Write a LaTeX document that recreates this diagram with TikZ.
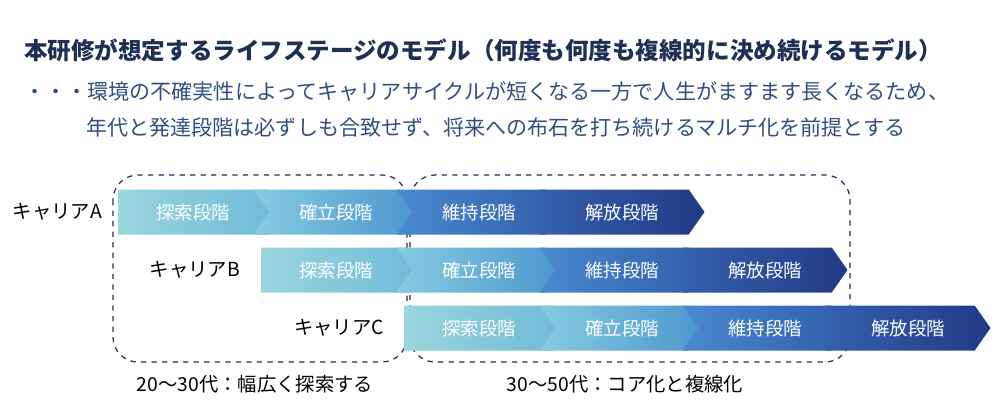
\documentclass[tikz,border=0pt]{standalone}
\usepackage{fontspec}
\setmainfont{Noto Sans CJK JP}
\usetikzlibrary{shapes.symbols}
\definecolor{navy}{HTML}{1F3055}
\definecolor{subblue}{HTML}{2F4F80}
\definecolor{tanA}{HTML}{9AD6DC}\definecolor{tanB}{HTML}{6CB8D8}
\definecolor{kakA}{HTML}{86CBE0}\definecolor{kakB}{HTML}{4C96CE}
\definecolor{ijA}{HTML}{4A8AD0}\definecolor{ijB}{HTML}{2F5DAA}
\definecolor{kaiA}{HTML}{3560AE}\definecolor{kaiB}{HTML}{223A86}
\tikzset{
  phase/.style={signal, signal to=east, signal pointer angle=110, minimum width=3.3cm,
    minimum height=0.9cm, inner sep=0pt, text=white, font=\fontsize{10.5}{12}\selectfont},
  first/.style={phase, signal from=nowhere},
  next/.style={phase, signal from=west},
  tansaku/.style={left color=tanA, right color=tanB},
  kakuritsu/.style={left color=kakA, right color=kakB},
  iji/.style={left color=ijA, right color=ijB},
  kaiho/.style={left color=kaiA, right color=kaiB},
  career/.style={anchor=east, font=\fontsize{11}{13}\selectfont, text=black},
  group/.style={draw=navy, dashed, rounded corners=0.5cm, line width=0.7pt},
  caption/.style={font=\fontsize{11}{13}\selectfont}
}
\begin{document}
\begin{tikzpicture}[x=0.02cm,y=-0.02cm]
\useasboundingbox (0,0) rectangle (1000,416);
% heading
\node[anchor=west, text=navy, font=\fontsize{13.4}{16}\selectfont\bfseries] (title) at (18,50)
  {本研修が想定するライフステージのモデル（何度も何度も複線的に決め続けるモデル）};
\node[anchor=west, text=subblue, font=\fontsize{12}{14}\selectfont] (sub1) at (18,92)
  {・・・環境の不確実性によってキャリアサイクルが短くなる一方で人生がますます長くなるため、};
\node[anchor=west, text=subblue, font=\fontsize{12}{14}\selectfont] (sub2) at (80,127)
  {年代と発達段階は必ずしも合致せず、将来への布石を打ち続けるマルチ化を前提とする};
% groups
\draw[group] (113,175) rectangle (407,362);
\draw[group] (410,175) rectangle (850,362);
% career A
\node[first, tansaku] (a1) at (193,212) {探索段階};
\node[next, kakuritsu] (a2) at (336,212) {確立段階};
\node[next, iji] (a3) at (479,212) {維持段階};
\node[next, kaiho] (a4) at (622,212) {解放段階};
\node[career] (ca) at (108,212) {キャリアA};
% career B
\node[first, tansaku] (b1) at (336,270) {探索段階};
\node[next, kakuritsu] (b2) at (479,270) {確立段階};
\node[next, iji] (b3) at (622,270) {維持段階};
\node[next, kaiho] (b4) at (765,270) {解放段階};
\node[career] (cb) at (246,270) {キャリアB};
% career C
\node[first, tansaku] (c1) at (479,328) {探索段階};
\node[next, kakuritsu] (c2) at (622,328) {確立段階};
\node[next, iji] (c3) at (765,328) {維持段階};
\node[next, kaiho] (c4) at (908,328) {解放段階};
\node[career] (cc) at (390,328) {キャリアC};
% captions
\node[caption] (l1) at (255,384) {20～30代：幅広く探索する};
\node[caption] (l2) at (625,384) {30～50代：コア化と複線化};
\end{tikzpicture}
\end{document}
